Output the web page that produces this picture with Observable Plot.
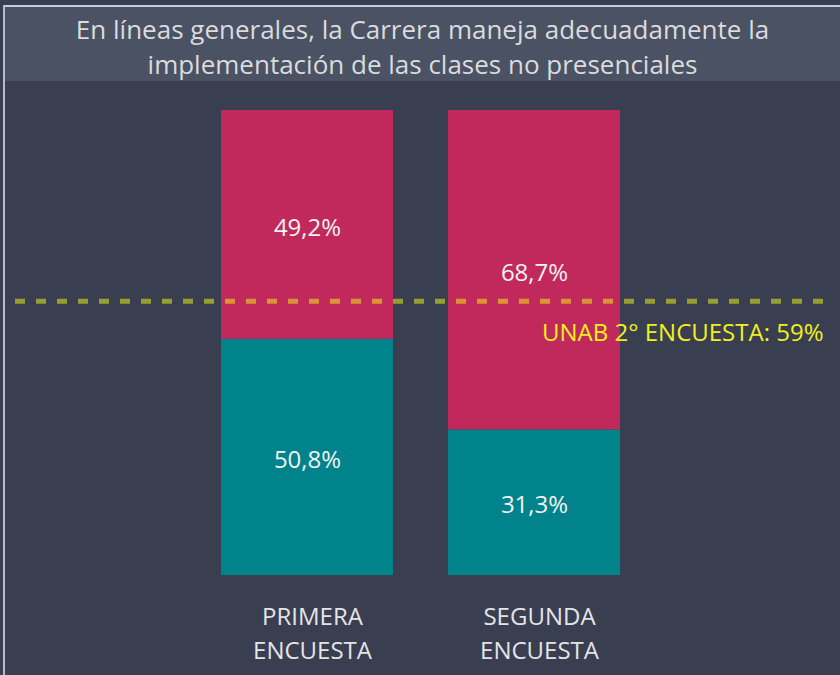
<!DOCTYPE html>
<html>
<head>
<meta charset="utf-8">
<script src="https://cdn.jsdelivr.net/npm/d3@7"></script>
<script src="https://cdn.jsdelivr.net/npm/@observablehq/plot@0.6"></script>
<style>
  html, body { margin: 0; padding: 0; background: #393e50; }
  #wrap { position: relative; width: 840px; height: 675px; overflow: hidden; background: #393e50; font-family: "Open Sans", "Noto Sans", sans-serif; }
  #topline { position: absolute; left: 3px; top: 5px; width: 837px; height: 2px; background: #c8ccd4; }
  #leftline { position: absolute; left: 3px; top: 5px; width: 2px; height: 670px; background: #b8bcc6; }
  #title { position: absolute; left: 5px; top: 7px; width: 835px; height: 74px; background: #4b5263; color: #dadbde; font-size: 26px; line-height: 35px; text-align: center; box-sizing: border-box; padding-top: 5px; white-space: nowrap; }
  #chart { position: absolute; left: 0; top: 0; }
</style>
</head>
<body>
<div id="wrap">
  <div id="chart"></div>
  <div id="topline"></div>
  <div id="leftline"></div>
  <div id="title">En líneas generales, la Carrera maneja adecuadamente la<br>implementación de las clases no presenciales</div>
</div>
<script>
const categories = ["PRIMERA\nENCUESTA", "SEGUNDA\nENCUESTA"];
const series = ["Sí", "No"];
const siValues = [0.508, 0.313];
const noValues = [0.492, 0.687];
const seriesColors = ["#00838a", "#c1285c"];
const refValue = 0.59;
const refLabel = "UNAB 2° ENCUESTA: 59%";

const fmt = v => (v * 100).toFixed(1).replace(".", ",") + "%";

const data = [];
categories.forEach((c, i) => {
  data.push({cat: c, serie: series[0], value: siValues[i]});
  data.push({cat: c, serie: series[1], value: noValues[i]});
});

const stacked = Plot.stackY({x: "cat", y: "value", z: "serie", order: series});

const chart = Plot.plot({
  width: 840,
  height: 675,
  marginLeft: 15,
  marginRight: 12,
  marginTop: 110,
  marginBottom: 100,
  style: {background: "transparent", fontFamily: "'Open Sans', 'Noto Sans', sans-serif", overflow: "visible"},
  x: {domain: categories, range: [220, 621], paddingInner: 0.2412, paddingOuter: 0, axis: null},
  y: {domain: [0, 1], range: [575, 110], axis: null},
  color: {domain: series, range: seriesColors},
  marks: [
    Plot.barY(data, {...stacked, fill: "serie", inset: 0}),
    Plot.text(data, Plot.stackY({x: "cat", y: "value", z: "serie", order: series, text: d => fmt(d.value), fill: "#f2f2f2", fontSize: 24, dy: 3})),
    Plot.text(categories, {x: d => d, y: () => 0, dx: 5, dy: 56, text: d => d, fill: "#e4e4e6", fontSize: 24, lineAnchor: "middle", lineHeight: 1.42}),
    Plot.ruleY([refValue], {stroke: "#f4ff10", strokeOpacity: 0.5, strokeWidth: 5, strokeDasharray: "10,11"}),
    Plot.text([refLabel], {y: () => refValue, frameAnchor: "right", dx: -5, dy: 32, textAnchor: "end", text: d => d, fill: "#f0f020", fontSize: 24})
  ]
});
document.getElementById("chart").appendChild(chart);
</script>
</body>
</html>
